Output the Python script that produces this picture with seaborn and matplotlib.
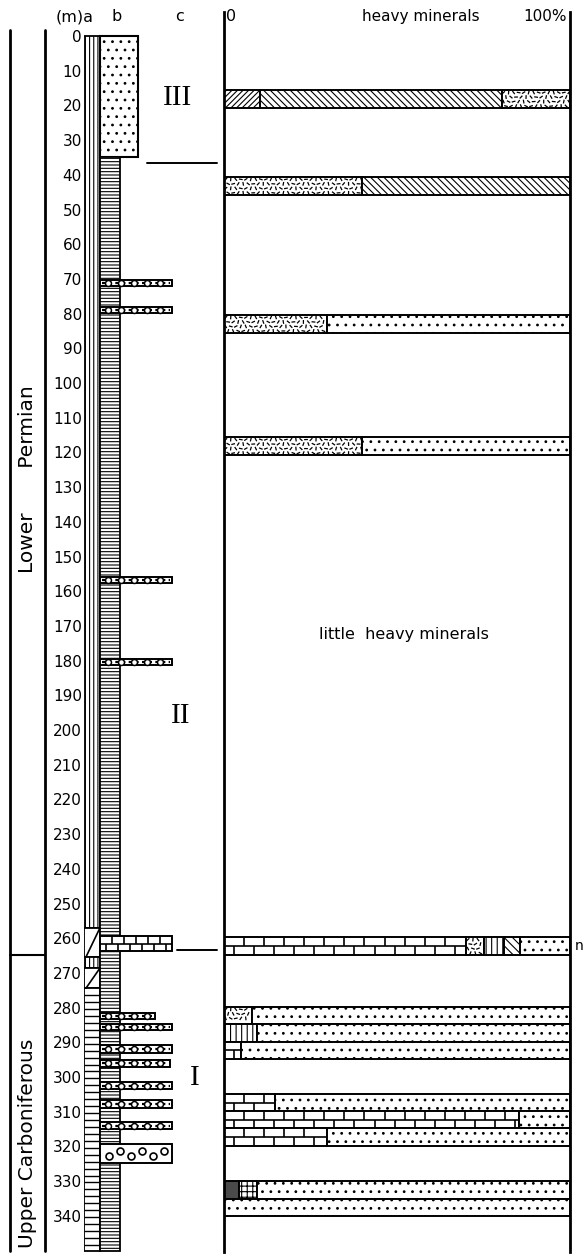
import numpy as np
import matplotlib
matplotlib.use('Agg')
import matplotlib.pyplot as plt
import seaborn as sns
from matplotlib.patches import Rectangle
from matplotlib.collections import LineCollection

# ---- data (depth in m) ----
depth_ticks = list(range(0, 350, 10))

# column a
a_top = [0, 257, 265.4, 268.6, 274.4]
a_bot = [257, 265.4, 268.6, 274.4, 350]
a_kind = ['vlines', 'slash', 'vlines', 'slash', 'boxes']

# column b
sand_top, sand_bot = 0, 35
shale_top, shale_bot = 35, 350
cong_top = [70.3, 78.1, 155.9, 179.5, 281.5, 284.7, 290.8, 295.0, 301.4, 306.6, 313.0, 319.3]
cong_bot = [72.0, 79.8, 157.6, 181.3, 283.2, 286.5, 293.0, 297.0, 303.5, 309.0, 315.0, 324.8]
cong_reach = [172, 172, 172, 172, 155, 172, 172, 170, 172, 172, 172, 172]
lime_top, lime_bot = 259.4, 263.7

# column c
units_c = ['III', 'II', 'I']
units_c_depth = [18, 196, 300.2]
units_c_x = [177.5, 181, 195]
unit_bounds = [36.5, 263.4]

# stratigraphy
strat_names = ['Lower       Permian', 'Upper Carboniferous']
strat_top = [-1.7, 264.8]
strat_bot = [264.8, 350]
strat_mid = [127.7, 319]

# heavy minerals (percent)
hm_top = [15.6, 40.6, 80.4, 115.6, 259.7, 279.8, 284.7, 289.9, 304.9, 309.8, 314.7, 330.0, 335.2]
hm_bot = [20.7, 45.8, 85.6, 120.7, 264.9, 284.7, 289.9, 294.8, 309.8, 314.7, 319.9, 335.2, 340.0]
hm_kind = [['A', 'B', 'C'], ['C', 'B'], ['C', 'D'], ['C', 'D'], ['L', 'C', 'V', 'B', 'D'],
           ['C', 'D'], ['V', 'D'], ['L', 'D'], ['L', 'D'], ['L', 'D'], ['L', 'D'],
           ['S', 'G', 'D'], ['D']]
hm_pct = [[10.4, 69.9, 19.7], [40, 60], [29.8, 70.2], [40, 60], [70, 5, 6, 4.5, 14.5],
          [8, 92], [9.6, 90.4], [4.8, 95.2], [14.7, 85.3], [85.3, 14.7], [29.9, 70.1],
          [4.3, 5.3, 90.4], [100]]

# ---- style ----
sns.set_theme(style='white')
plt.rcParams['font.family'] = ['DejaVu Sans']
plt.rcParams['text.color'] = 'black'
plt.rcParams['hatch.linewidth'] = 0.8
plt.rcParams['hatch.color'] = 'black'

W, H = 583, 1256
PX_M = 3.47
D0 = 36
ylim = ((H - D0) / PX_M, -D0 / PX_M)

fig = plt.figure(figsize=(W / 100, H / 100), dpi=100)
ax_l = fig.add_axes([84 / W, 0, 140 / W, 1])
ax_r = fig.add_axes([224 / W, 0, 346 / W, 1])
for ax in (ax_l, ax_r):
    ax.set_ylim(*ylim)
    ax.patch.set_visible(False)
    ax.set_xticks([])
    for s in ax.spines.values():
        s.set_visible(False)
ax_l.set_xlim(84, 224)
ax_r.set_xlim(0, 100)
ax_r.set_yticks([])

ax_l.set_yticks(depth_ticks)
ax_l.set_yticklabels([str(d) for d in depth_ticks])
ax_l.tick_params(axis='y', length=0, pad=1.5, labelsize=11, labelcolor='black')


def bricks(ax, x0, x1, y0, y1, blen, lw, clip=None):
    ym = (y0 + y1) / 2
    segs = [[(x0, ym), (x1, ym)]]
    for row, (ya, yb) in enumerate([(y0, ym), (ym, y1)]):
        start = x0 + (0.5 * blen if row else blen)
        for xx in np.arange(start, x1 - 0.2 * blen, blen):
            segs.append([(xx, ya), (xx, yb)])
    lc = LineCollection(segs, colors='black', linewidths=lw, zorder=2)
    ax.add_collection(lc)
    if clip is not None:
        lc.set_clip_path(clip)


def dash_texture(ax, x0, x1, y0, y1, clip):
    segs = []
    k = 0
    for r, yy in enumerate(np.arange(y0 + 0.7, y1 - 0.3, 1.3)):
        for xx in np.arange(x0 + 0.5 + (r % 2) * 0.7, x1 - 0.3, 1.45):
            k += 1
            ang = (k * 2.39996) % np.pi
            dx, dy = 0.55 * np.cos(ang), 0.55 * np.sin(ang)
            segs.append([(xx - dx, yy - dy), (xx + dx, yy + dy)])
    lc = LineCollection(segs, colors='black', linewidths=0.9, zorder=2)
    ax.add_collection(lc)
    lc.set_clip_path(clip)


# ---- left: stratigraphy brackets ----
for x in (10, 45):
    ax_l.plot([x, x], [strat_top[0], 350], color='black', lw=2, clip_on=False)
ax_l.plot([10, 45], [strat_bot[0], strat_bot[0]], color='black', lw=1.5, clip_on=False)
for name, ym in zip(strat_names, strat_mid):
    ax_l.text(27, ym, name, rotation=90, ha='center', va='center', fontsize=14.5, clip_on=False)

# header
ax_l.text(75, -5.5, '(m)a', ha='center', va='center', fontsize=11.5, clip_on=False)
ax_l.text(117, -5.5, 'b', ha='center', va='center', fontsize=11.5)
ax_l.text(180, -5.5, 'c', ha='center', va='center', fontsize=11.5)

# column a
for t, b, k in zip(a_top, a_bot, a_kind):
    hatch = '||||' if k == 'vlines' else None
    ax_l.add_patch(Rectangle((84, t), 16, b - t, facecolor='white', edgecolor='black',
                             lw=1.3, hatch=hatch, zorder=2))
    if k == 'slash':
        ax_l.plot([86, 100], [b, t], color='black', lw=1.2, zorder=3)
    if k == 'boxes':
        ax_l.hlines(np.arange(t + 2, b, 2), 84, 100, color='black', lw=1.0, zorder=3)

# column b
ax_l.add_patch(Rectangle((100, sand_top), 38, sand_bot - sand_top, facecolor='white',
                         edgecolor='black', lw=1.5, hatch='..', zorder=2))
ax_l.add_patch(Rectangle((100, shale_top), 20, shale_bot - shale_top, facecolor='white',
                         edgecolor='black', lw=1.3, hatch='-----', zorder=2))

for t, b, reach in zip(cong_top, cong_bot, cong_reach):
    ax_l.add_patch(Rectangle((100, t), reach - 100, b - t, facecolor='white',
                             edgecolor='black', lw=1.4, zorder=3))
    yc = (t + b) / 2
    if b - t < 4:
        ax_l.plot([102, reach - 2], [yc, yc], color='black', lw=1.6, ls=(0, (1.5, 1.5)), zorder=4)
        xs = np.arange(108, reach - 3, 13)
        ax_l.plot(xs, [yc] * len(xs), 'o', ms=4.3, mfc='white', mec='black', mew=1.1, zorder=5)
    else:
        xs = np.arange(109, reach - 3, 11)
        ys = [t + (b - t) * (0.35 if i % 2 else 0.62) for i in range(len(xs))]
        ax_l.plot(xs, ys, 'o', ms=5, mfc='white', mec='black', mew=1.2, ls='none', zorder=5)

ax_l.add_patch(Rectangle((100, lime_top), 72, lime_bot - lime_top, facecolor='white',
                         edgecolor='black', lw=1.4, zorder=3))
bricks(ax_l, 100, 172, lime_top, lime_bot, 12, 1.2)
for c in ax_l.collections:
    c.set_zorder(4)

# column c
for u, d, x in zip(units_c, units_c_depth, units_c_x):
    ax_l.text(x, d, u, ha='center', va='center', fontsize=21, family='Liberation Serif')
ax_l.plot([147, 217], [unit_bounds[0]] * 2, color='black', lw=1.4)
ax_l.plot([177, 217], [unit_bounds[1]] * 2, color='black', lw=1.4)

# ---- right: heavy minerals ----
hatches = {'A': '/' * 6, 'B': '\\' * 5, 'D': '..', 'V': '|||', 'G': '+++'}
for top, bot, kinds, pcts in zip(hm_top, hm_bot, hm_kind, hm_pct):
    left = 0
    for k, p in zip(kinds, pcts):
        fc = '#4a4a4a' if k == 'S' else 'white'
        h = hatches['B'][:4] if (k == 'B' and len(kinds) == 5) else hatches.get(k)
        bars = ax_r.barh((top + bot) / 2, p, left=left, height=bot - top, color=fc,
                         edgecolor='black', linewidth=1.4, hatch=h, zorder=1)
        patch = bars[0]
        if k == 'C':
            dash_texture(ax_r, left, left + p, top, bot, patch)
        if k == 'L':
            bricks(ax_r, left, left + p, top, bot, 5.8, 1.2, clip=patch)
        left += p

for side in ('left', 'right'):
    ax_r.spines[side].set_visible(True)
    ax_r.spines[side].set_color('black')
    ax_r.spines[side].set_linewidth(2)
    ax_r.spines[side].set_bounds(350.4, -6.9)

ax_r.text(0.6, -5.5, '0', ha='left', va='center', fontsize=11.5)
ax_r.text(57, -5.5, 'heavy minerals', ha='center', va='center', fontsize=11)
ax_r.text(99.2, -5.5, '100%', ha='right', va='center', fontsize=11)
ax_r.text(52, 172.6, 'little  heavy minerals', ha='center', va='center', fontsize=11.5)
ax_r.text(101.3, 262.3, 'n', ha='left', va='center', fontsize=10, clip_on=False)

fig.savefig('out.png', dpi=100)
